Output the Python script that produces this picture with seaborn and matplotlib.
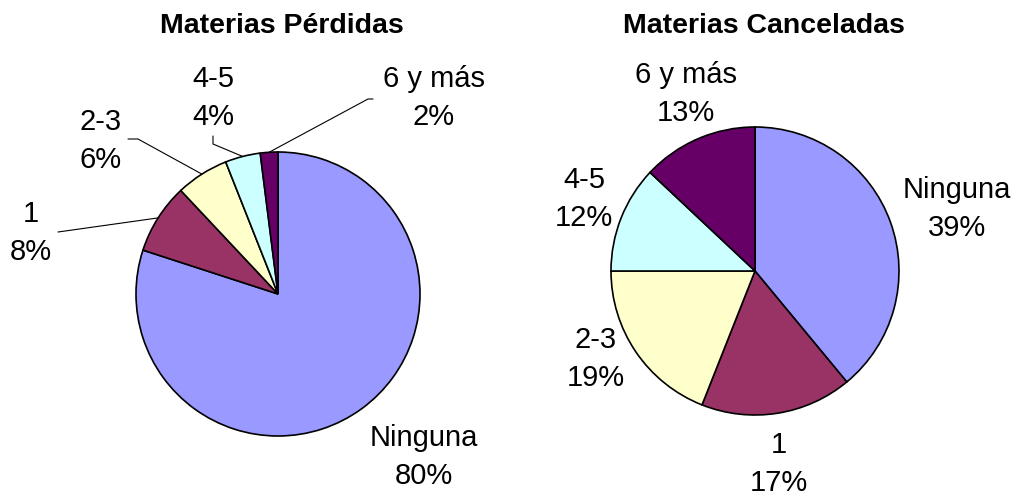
import numpy as np
import matplotlib
matplotlib.use("Agg")
import matplotlib.pyplot as plt
import seaborn as sns

# ======================================================================
# DONNEES
# ======================================================================
categorias = ["Ninguna", "1", "2-3", "4-5", "6 y más"]
perdidas = [80, 8, 6, 4, 2]
canceladas = [39, 17, 19, 12, 13]
titulos = ["Materias Pérdidas", "Materias Canceladas"]
colores = ["#9999FF", "#993366", "#FFFFCC", "#CCFFFF", "#660066"]

# ======================================================================
# MISE EN PAGE (pixels de l'image, origine en haut a gauche)
# ======================================================================
W, H = 1015, 497
centros = [(278, 294), (755, 271)]
radios = [142, 144]
titulo_pos = [(282, 33), (764, 33)]
etiq_pos = [
    [(424, 457), (31, 233), (101, 141), (213, 98), (434, 98)],
    [(957, 209), (779, 464), (596, 359), (584, 199), (686, 94)],
]
# debut des lignes de rappel cote texte (+ coude eventuel), pie gauche seulement
rappel = {
    1: [(58, 232)],
    2: [(128, 139), (138, 139)],
    3: [(213, 136), (213, 144)],
    4: [(373, 99), (368, 99)],
}

sns.set_style("white")
plt.rcParams["font.family"] = ["Liberation Sans", "DejaVu Sans"]
plt.rcParams["text.color"] = "black"

fig = plt.figure(figsize=(W / 100, H / 100), dpi=100)
ax = fig.add_axes([0, 0, 1, 1])


def py(y):
    return H - y


for k, valores in enumerate([perdidas, canceladas]):
    cx, cy = centros[k]
    wedges, _ = ax.pie(
        valores,
        colors=colores,
        startangle=90,
        counterclock=False,
        center=(cx, py(cy)),
        radius=radios[k],
        wedgeprops=dict(edgecolor="black", linewidth=1.2),
    )
    ax.text(titulo_pos[k][0], py(titulo_pos[k][1]), titulos[k],
            ha="center", va="baseline", fontsize=20.5, fontweight="bold")

    total = sum(valores)
    for i, (cat, v) in enumerate(zip(categorias, valores)):
        tx, ty = etiq_pos[k][i]
        ax.text(tx, py(ty), f"{cat}\n{round(100 * v / total)}%",
                ha="center", va="center", fontsize=21, linespacing=1.45)

        if k == 0 and i in rappel:
            w = wedges[i]
            ang = np.deg2rad((w.theta1 + w.theta2) / 2)
            bx = cx + radios[k] * np.cos(ang)
            by = py(cy) + radios[k] * np.sin(ang)
            pts = rappel[i]
            xs = [p[0] for p in pts] + [bx]
            ys = [py(p[1]) for p in pts] + [by]
            ax.plot(xs, ys, color="black", linewidth=0.8)

ax.set_xlim(0, W)
ax.set_ylim(0, H)
ax.set_aspect("equal")
ax.axis("off")

plt.savefig("out.png", dpi=100)
